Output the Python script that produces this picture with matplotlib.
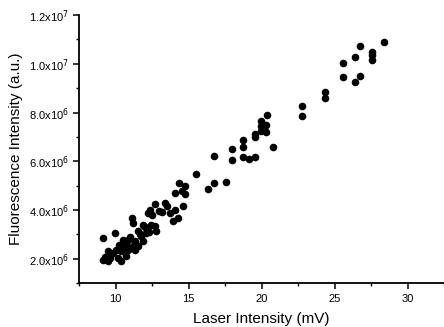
import numpy as np
import matplotlib
matplotlib.use("Agg")
from matplotlib import pyplot as plt
from matplotlib.ticker import MultipleLocator, FuncFormatter

plt.rcParams['font.family'] = ['Liberation Sans', 'DejaVu Sans']

# laser intensity (mV)
laser = [28.42, 26.78, 26.37, 27.58, 27.58, 27.58, 25.6, 25.6, 26.37, 26.78,
         24.36, 24.36, 22.79, 22.79, 20.36, 19.95, 19.95, 19.95, 20.34, 20.34,
         19.57, 19.57, 20.77, 18.74, 18.74, 17.95, 17.95, 18.74, 19.13, 19.57,
         16.73, 17.55, 16.73, 16.35, 15.5,
         14.38, 14.77, 14.04, 14.54, 14.73, 12.72, 13.4, 13.54, 12.33, 12.21,
         13.0, 13.7, 14.04, 14.61, 13.93, 14.27, 11.12, 11.19, 11.87, 12.67,
         12.79, 11.53, 12.1, 11.76, 9.93, 9.13, 10.5, 10.84, 11.3, 11.87,
         10.27, 10.73, 11.19, 11.53, 10.05, 10.39, 10.84, 11.3, 9.47, 9.81,
         9.25, 9.59, 9.13, 10.16, 10.73, 9.47, 10.39,
         12.0, 12.4, 11.7, 12.3, 13.2, 12.5, 11.0, 10.6]
# fluorescence intensity (x1e6 a.u.)
fluor = [10.9, 10.71, 10.29, 10.5, 10.35, 10.17, 10.05, 9.46, 9.24, 9.49,
         8.83, 8.61, 8.28, 7.87, 7.91, 7.65, 7.46, 7.25, 7.48, 7.22,
         7.11, 6.98, 6.59, 6.88, 6.59, 6.52, 6.04, 6.16, 6.08, 6.19,
         6.23, 5.17, 5.12, 4.87, 5.46,
         5.12, 4.98, 4.71, 4.78, 4.64, 4.23, 4.30, 4.16, 4.02, 3.88,
         3.95, 3.88, 4.02, 4.16, 3.54, 3.68, 3.68, 3.47, 3.40, 3.33,
         3.13, 3.13, 3.06, 2.92, 3.06, 2.85, 2.78, 2.78, 2.71, 2.71,
         2.58, 2.58, 2.51, 2.51, 2.37, 2.30, 2.37, 2.37, 2.30, 2.23,
         2.09, 2.03, 1.96, 2.03, 2.12, 1.89, 1.89,
         3.3, 3.4, 3.0, 3.1, 3.9, 3.8, 2.9, 2.45]


def sci_fmt(v, pos):
    if v == 0:
        return '0'
    e = int(np.floor(np.log10(abs(v))))
    m = v / 10**e
    return '%.1fx10$^{%d}$' % (m, e)


def main():
    fig = plt.figure(figsize=(4.44, 3.27), dpi=100)
    ax = fig.add_axes([0.178, 0.134, 0.822, 0.82])
    ax.scatter(laser, np.array(fluor) * 1e6, s=30, color='black', linewidths=0)

    ax.set_xlim(7.5, 32.5)
    ax.set_ylim(1e6, 1.2e7)
    ax.xaxis.set_major_locator(MultipleLocator(5))
    ax.xaxis.set_minor_locator(MultipleLocator(2.5))
    ax.yaxis.set_major_locator(MultipleLocator(2e6))
    ax.yaxis.set_minor_locator(MultipleLocator(1e6))
    ax.yaxis.set_major_formatter(FuncFormatter(sci_fmt))

    for s in ['top', 'right']:
        ax.spines[s].set_visible(False)
    for s in ['left', 'bottom']:
        ax.spines[s].set_linewidth(1.3)
    ax.tick_params(which='major', direction='out', length=4, width=1.1, labelsize=8)
    ax.tick_params(which='minor', direction='out', length=2.5, width=1.0)

    ax.set_xlabel("Laser Intensity (mV)", fontsize=11, labelpad=6)
    ax.set_ylabel("Fluorescence Intensity (a.u.)", fontsize=11, labelpad=4)

    fig.savefig("out.png", dpi=100)


if __name__ == "__main__":
    main()
